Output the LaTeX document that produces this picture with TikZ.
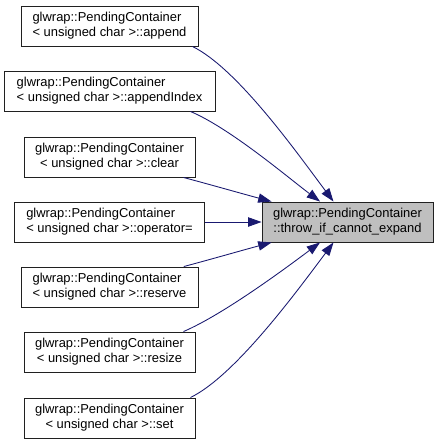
\documentclass[tikz,border=0pt]{standalone}
\usepackage{fontspec}
\setmainfont{Liberation Sans}
\usetikzlibrary{arrows.meta}
\definecolor{edgeblue}{HTML}{191970}
\definecolor{targetgray}{HTML}{BFBFBF}
\definecolor{boxline}{HTML}{202020}
\newlength\labwa
\newlength\labwb
\newcommand\dlab[2]{\settowidth\labwa{#1}\settowidth\labwb{#2}\ifdim\labwb>\labwa\labwa=\labwb\fi\begin{tabular}{@{}c@{}}\makebox[\labwa][l]{#1}\\#2\end{tabular}}
\begin{document}
\begin{tikzpicture}[x=0.75pt,y=-0.75pt,
  box/.style={draw=boxline, line width=0.7pt, fill=white, minimum height=30pt, inner sep=0pt,
    font=\fontsize{9.7}{11.4}\selectfont},
  conn/.style={draw=edgeblue, line width=0.65pt, -{Triangle[length=10pt,width=7pt]}}]
\useasboundingbox (0,0) rectangle (439,444);
\node[box, minimum width=132.75pt] (append) at (109.5,26) {\dlab{glwrap::PendingContainer}{< unsigned char >::append}};
\node[box, minimum width=158.25pt] (appendIndex) at (109.5,91) {\dlab{glwrap::PendingContainer}{< unsigned char >::appendIndex}};
\node[box, minimum width=128.25pt] (clear) at (109.5,157) {\dlab{glwrap::PendingContainer}{< unsigned char >::clear}};
\node[box, minimum width=142.5pt] (opeq) at (109.5,222) {\dlab{glwrap::PendingContainer}{< unsigned char >::operator=}};
\node[box, minimum width=132.75pt] (reserve) at (109.5,287) {\dlab{glwrap::PendingContainer}{< unsigned char >::reserve}};
\node[box, minimum width=128.25pt] (resize) at (109.5,352) {\dlab{glwrap::PendingContainer}{< unsigned char >::resize}};
\node[box, minimum width=128.25pt] (set) at (109.5,418) {\dlab{glwrap::PendingContainer}{< unsigned char >::set}};
\node[box, fill=targetgray, minimum width=128.25pt] (target) at (347.5,222) {\dlab{glwrap::PendingContainer}{::throw\_if\_cannot\_expand}};
\draw[conn] ([xshift=-4.5pt]append.south east) .. controls +(45,22) and +(-36,-48) .. ([xshift=-10.5pt]target.north);
\draw[conn] ([xshift=-18.75pt]appendIndex.south east) .. controls +(40,17) and +(-32,-24) .. ([xshift=-20.6pt]target.north);
\draw[conn] ([xshift=-9pt]clear.south east) .. controls +(30,8) and +(-30,-8) .. ([xshift=7.5pt]target.north west);
\draw[conn] (opeq.east) -- (target.west);
\draw[conn] ([xshift=-11pt]reserve.north east) .. controls +(30,-8) and +(-30,8) .. ([xshift=7.5pt]target.south west);
\draw[conn] ([xshift=-9pt]resize.north east) .. controls +(40,-17) and +(-32,24) .. ([xshift=-20.6pt]target.south);
\draw[conn] ([xshift=-3.75pt]set.north east) .. controls +(45,-22) and +(-36,48) .. ([xshift=-10.5pt]target.south);
\end{tikzpicture}
\end{document}
